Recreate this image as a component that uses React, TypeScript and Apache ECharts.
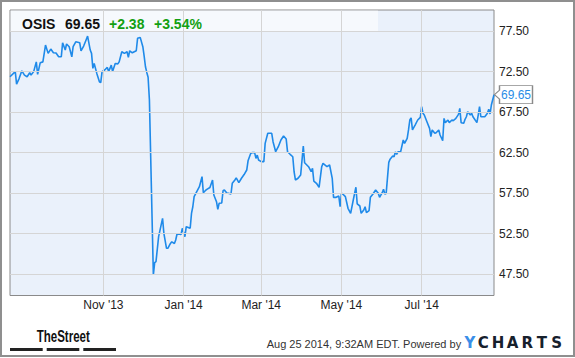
import React, { useEffect, useRef } from "react";
import * as echarts from "echarts";

const tickerSymbol = "OSIS";
const changeText = "+2.38";
const changePctText = "+3.54%";
const footerText = "Aug 25 2014, 9:32AM EDT. Powered by";

const dates = [
  "2013-08-22","2013-08-26","2013-08-27","2013-08-29","2013-08-31",
  "2013-09-02","2013-09-04","2013-09-06","2013-09-07","2013-09-09","2013-09-11","2013-09-12","2013-09-14","2013-09-16","2013-09-18","2013-09-20","2013-09-22","2013-09-24","2013-09-26","2013-09-28","2013-09-30",
  "2013-10-01","2013-10-03","2013-10-04","2013-10-06","2013-10-08","2013-10-09","2013-10-11","2013-10-14","2013-10-15","2013-10-17","2013-10-19","2013-10-20","2013-10-22","2013-10-23","2013-10-24","2013-10-25","2013-10-27","2013-10-29","2013-10-30","2013-10-31",
  "2013-11-02","2013-11-04","2013-11-05","2013-11-07","2013-11-08","2013-11-10","2013-11-12","2013-11-13","2013-11-15","2013-11-17","2013-11-19","2013-11-20","2013-11-21","2013-11-23","2013-11-26","2013-11-27","2013-11-29",
  "2013-12-01","2013-12-02","2013-12-03","2013-12-04","2013-12-05","2013-12-06","2013-12-09","2013-12-10","2013-12-11","2013-12-13","2013-12-16","2013-12-17","2013-12-19","2013-12-20","2013-12-22","2013-12-23","2013-12-25","2013-12-26","2013-12-27","2013-12-29","2013-12-30","2013-12-31",
  "2014-01-02","2014-01-03","2014-01-06","2014-01-07","2014-01-08","2014-01-09","2014-01-11","2014-01-13","2014-01-15","2014-01-16","2014-01-18","2014-01-19","2014-01-21","2014-01-23","2014-01-24","2014-01-26","2014-01-27","2014-01-28","2014-01-30","2014-01-31",
  "2014-02-01","2014-02-03","2014-02-04","2014-02-06","2014-02-07","2014-02-09","2014-02-10","2014-02-12","2014-02-14","2014-02-16","2014-02-18","2014-02-19","2014-02-21","2014-02-22","2014-02-24","2014-02-25","2014-02-26","2014-02-27",
  "2014-03-01","2014-03-03","2014-03-04","2014-03-06","2014-03-09","2014-03-10","2014-03-12","2014-03-14","2014-03-16","2014-03-18","2014-03-20","2014-03-21","2014-03-23","2014-03-25","2014-03-26","2014-03-27","2014-03-29","2014-03-31",
  "2014-04-02","2014-04-03","2014-04-06","2014-04-08","2014-04-09","2014-04-10","2014-04-12","2014-04-14","2014-04-16","2014-04-17","2014-04-20","2014-04-22","2014-04-24","2014-04-25","2014-04-27","2014-04-29","2014-04-30",
  "2014-05-01","2014-05-02","2014-05-04","2014-05-06","2014-05-08","2014-05-10","2014-05-12","2014-05-13","2014-05-15","2014-05-16","2014-05-18","2014-05-19","2014-05-20","2014-05-22","2014-05-23","2014-05-25","2014-05-27","2014-05-29","2014-05-30",
  "2014-06-01","2014-06-02","2014-06-03","2014-06-04","2014-06-06","2014-06-07","2014-06-09","2014-06-10","2014-06-11","2014-06-12","2014-06-13","2014-06-15","2014-06-17","2014-06-18","2014-06-20","2014-06-21","2014-06-22","2014-06-23","2014-06-24","2014-06-26","2014-06-28","2014-06-30",
  "2014-07-01","2014-07-02","2014-07-03","2014-07-05","2014-07-07","2014-07-08","2014-07-09","2014-07-11","2014-07-12","2014-07-14","2014-07-15","2014-07-17","2014-07-18","2014-07-19","2014-07-21","2014-07-22","2014-07-24","2014-07-25","2014-07-27","2014-07-29","2014-07-30","2014-07-31",
  "2014-08-02","2014-08-03","2014-08-04","2014-08-05","2014-08-07","2014-08-08","2014-08-09","2014-08-12","2014-08-13","2014-08-14","2014-08-15","2014-08-18","2014-08-20","2014-08-21","2014-08-22","2014-08-23","2014-08-25"
];

const prices = [
  71.87,72.5,70.96,71.67,72.6,
  72.07,71.87,72.36,72.07,72.5,73.7,72.16,73.6,73.7,75.77,74.75,75.28,74.82,74.8,74.33,74.33,
  76.06,75.16,75.9,75.57,74.33,75.57,76.18,76.06,75.07,75.65,76.47,76.88,75.16,74.75,72.9,73.5,72.28,71.25,71.13,72.5,
  72.7,73.02,72.5,73.3,72.5,73.5,73.45,73.7,74.95,74.75,74.95,74.26,75.07,74.82,75.07,76.6,76.72,
  75.57,74.4,73.1,72.4,71.8,69.0,47.41,48.93,49.05,52.14,54.4,52.55,50.7,50.7,51.3,51.5,51.3,51.73,52.47,52.45,52.4,53.17,
  52.14,53.37,53.17,55.0,55.83,57.07,57.7,58.3,59.54,57.56,57.9,58.0,58.2,59.13,57.27,56.45,55.5,56.25,56.3,57.8,
  57.9,57.49,57.5,57.4,58.72,59.13,59.4,58.8,59.34,59.8,60.36,61.5,62.4,62.5,62.5,61.8,62.2,61.6,
  61.4,61.4,63.65,64.89,64.89,63.85,62.62,63.24,64.06,64.55,64.18,62.62,62.3,62.0,60.15,59.13,59.34,59.74,
  63.3,61.26,60.77,60.15,60.57,59.0,58.72,58.23,60.77,61.18,60.77,60.98,59.34,56.99,56.99,57.15,55.83,
  57.5,57.4,57.07,55.64,55.02,56.66,58.23,56.17,55.92,55.02,55.43,55.83,55.1,55.34,56.99,57.4,57.9,57.5,56.99,
  57.56,57.98,57.4,57.45,61.3,61.7,62.1,62.0,62.6,62.3,62.6,62.6,64.06,63.65,64.27,65.3,66.53,66.8,65.3,65.9,66.53,66.86,
  68.17,67.35,67.14,66.32,65.5,64.47,65.3,64.89,64.96,65.3,64.68,63.97,66.73,66.2,66.53,66.2,66.53,66.44,66.73,67.23,67.97,66.2,
  66.12,66.61,66.93,67.55,67.14,67.35,66.93,66.2,67.14,68.17,66.93,66.93,67.35,67.85,67.27,68.38,69.65
];

const xTickDates = ["2013-11-01", "2014-01-01", "2014-03-01", "2014-05-01", "2014-07-01"];
const xTickLabels = ["Nov '13", "Jan '14", "Mar '14", "May '14", "Jul '14"];
const yTicks = [47.5, 52.5, 57.5, 62.5, 67.5, 72.5, 77.5];
const logoLetters = ["C", "H", "A", "R", "T", "S"];

const FONT = "Arial, 'Liberation Sans', sans-serif";

export default function App() {
  const ref = useRef<HTMLDivElement>(null);

  useEffect(() => {
    document.body.style.margin = "0";
    if (!ref.current) return;
    const chart = echarts.init(ref.current, undefined, { renderer: "svg" });
    const data = dates.map((d, i) => [d, prices[i]]);
    const last = data[data.length - 1];
    const lastPrice = prices[prices.length - 1];

    const gridLineData: any[] = [
      ...xTickDates.map((d, i) => ({
        xAxis: d,
        label: {
          show: true,
          position: "start",
          distance: 3,
          formatter: xTickLabels[i],
          color: "#222",
          fontSize: 12,
          fontFamily: FONT,
        },
      })),
      ...yTicks.map((v) => ({
        yAxis: v,
        label: {
          show: true,
          position: "end",
          distance: 5,
          formatter: v.toFixed(2),
          color: "#222",
          fontSize: 12,
          fontFamily: FONT,
        },
      })),
    ];

    const letterEls = logoLetters.map((ch, i) => ({
      type: "text",
      z: 10,
      x: 483.3 + i * 14.67,
      y: 342.5,
      style: {
        text: ch,
        fill: "#16202c",
        font: "bold 15px 'DejaVu Sans', sans-serif",
        textAlign: "center",
        textVerticalAlign: "middle",
        align: "center",
        verticalAlign: "middle",
      },
    }));

    const option: any = {
      animation: false,
      backgroundColor: "#ffffff",
      grid: {
        left: 10,
        top: 10,
        width: 484,
        height: 285.5,
        show: true,
        backgroundColor: "#eaf1fb",
        borderColor: "#8a8a8a",
        borderWidth: 1,
      },
      xAxis: {
        type: "time",
        min: "2013-08-22",
        max: "2014-08-25",
        axisLine: { show: false },
        axisTick: { show: false },
        axisLabel: { show: false },
        splitLine: { show: false },
      },
      yAxis: {
        type: "value",
        min: 44.88,
        max: 80.1,
        axisLine: { show: false },
        axisTick: { show: false },
        axisLabel: { show: false },
        splitLine: { show: false },
      },
      series: [
        {
          type: "line",
          data,
          z: 1,
          silent: true,
          symbol: "none",
          lineStyle: { opacity: 0 },
          markLine: {
            silent: true,
            animation: false,
            symbol: ["none", "none"],
            lineStyle: { color: "#d5d5d5", width: 1, type: "solid" },
            emphasis: { disabled: true },
            data: gridLineData,
          },
        },
        {
          type: "line",
          data,
          z: 3,
          clip: false,
          silent: true,
          symbol: "none",
          lineStyle: { color: "#1f8ae9", width: 1.6 },
          markPoint: {
            silent: true,
            animation: false,
            symbol: "path://M0,9L5,4.5L5,0L38,0L38,18L5,18L5,13.5Z",
            symbolSize: [38, 18],
            symbolOffset: [19.5, 0],
            itemStyle: { color: "#ffffff", borderColor: "#8a8a8a", borderWidth: 1 },
            label: {
              show: true,
              position: "inside",
              offset: [2.5, 0],
              color: "#2a8ce6",
              fontSize: 12,
              fontFamily: FONT,
              formatter: (p: any) => Number(p.value).toFixed(2),
            },
            data: [{ coord: last, value: lastPrice }],
          },
        },
      ],
      graphic: [
        {
          type: "rect",
          z: 0,
          shape: { x: 1, y: 1, width: 573, height: 355 },
          style: { fill: "none", stroke: "#8f8f8f", lineWidth: 2 },
        },
        {
          type: "rect",
          z: 2,
          shape: { x: 10.5, y: 10.5, width: 367.5, height: 20.5 },
          style: { fill: "rgba(255,255,255,0.55)" },
        },
        {
          type: "text",
          z: 10,
          x: 22,
          y: 24,
          style: { text: tickerSymbol, fill: "#111", font: `bold 14px ${FONT}`, textVerticalAlign: "middle", verticalAlign: "middle" },
        },
        {
          type: "text",
          z: 10,
          x: 65,
          y: 24,
          style: { text: lastPrice.toFixed(2), fill: "#111", font: `bold 14px ${FONT}`, textVerticalAlign: "middle", verticalAlign: "middle" },
        },
        {
          type: "text",
          z: 10,
          x: 109,
          y: 24,
          style: { text: changeText, fill: "#12a012", font: `bold 14px ${FONT}`, textVerticalAlign: "middle", verticalAlign: "middle" },
        },
        {
          type: "text",
          z: 10,
          x: 154,
          y: 24,
          style: { text: changePctText, fill: "#12a012", font: `bold 14px ${FONT}`, textVerticalAlign: "middle", verticalAlign: "middle" },
        },
        {
          type: "text",
          z: 10,
          x: 36.7,
          y: 336,
          scaleX: 0.72,
          style: {
            text: "TheStreet",
            fill: "#111",
            font: `bold 16px ${FONT}`,
            textVerticalAlign: "middle",
            verticalAlign: "middle",
          },
        },
        { type: "rect", z: 10, shape: { x: 10, y: 348, width: 32.7, height: 3 }, style: { fill: "#222" } },
        { type: "rect", z: 10, shape: { x: 46.7, y: 348, width: 32.6, height: 3 }, style: { fill: "#222" } },
        { type: "rect", z: 10, shape: { x: 83.3, y: 348, width: 32.7, height: 3 }, style: { fill: "#222" } },
        {
          type: "text",
          z: 10,
          x: 266.7,
          y: 344,
          style: { text: footerText, fill: "#333", font: `11px ${FONT}`, textVerticalAlign: "middle", verticalAlign: "middle" },
        },
        {
          type: "text",
          z: 10,
          x: 464.5,
          y: 342.5,
          style: {
            text: "Y",
            fill: "#3a8ee8",
            font: "bold 15px 'DejaVu Sans', sans-serif",
            textVerticalAlign: "middle",
            verticalAlign: "middle",
          },
        },
        ...letterEls,
      ],
    };

    chart.setOption(option);
    return () => chart.dispose();
  }, []);

  return <div ref={ref} style={{ width: 575, height: 358 }} />;
}
